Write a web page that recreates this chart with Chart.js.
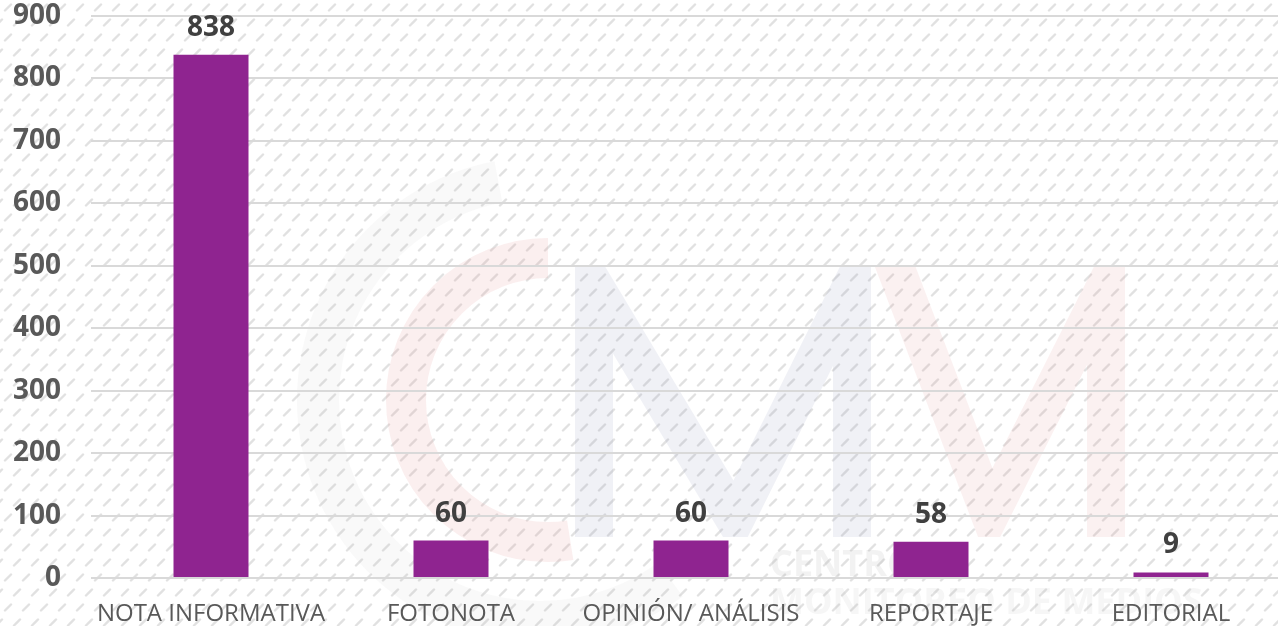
<!DOCTYPE html>
<html>
<head>
<meta charset="utf-8">
<script src="https://cdn.jsdelivr.net/npm/chart.js@4"></script>
<style>
  html, body { margin: 0; padding: 0; overflow: hidden; background: #ffffff; }
  #wrap { position: relative; width: 1291px; height: 626px; }
</style>
</head>
<body>
<div id="wrap"><canvas id="c"></canvas></div>
<script>
const categories = ["NOTA INFORMATIVA", "FOTONOTA", "OPINIÓN/ ANÁLISIS", "REPORTAJE", "EDITORIAL"];
const values = [838, 60, 60, 58, 9];
const yTicks = [0, 100, 200, 300, 400, 500, 600, 700, 800, 900];
const watermarkLines = ["CENTRO", "MONITOREO DE MEDIOS"];

const FONT = "'Open Sans', 'DejaVu Sans', sans-serif";

function makePattern(ctx) {
  const p = document.createElement('canvas');
  p.width = 18; p.height = 30;
  const g = p.getContext('2d');
  g.fillStyle = '#ffffff';
  g.fillRect(0, 0, 18, 30);
  g.strokeStyle = 'rgba(200,200,200,0.55)';
  g.lineWidth = 2.4;
  g.lineCap = 'round';
  g.beginPath();
  g.moveTo(5, 10.5); g.lineTo(11, 4.5);
  g.moveTo(14, 25.5); g.lineTo(20, 19.5);
  g.moveTo(-4, 25.5); g.lineTo(2, 19.5);
  g.stroke();
  return ctx.createPattern(p, 'repeat');
}

const bgPlugin = {
  id: 'bg',
  beforeDraw(chart) {
    const ctx = chart.ctx;
    ctx.save();
    ctx.fillStyle = makePattern(ctx);
    ctx.fillRect(0, 0, chart.width, chart.height);

    ctx.lineCap = 'butt';
    // outer gray C
    ctx.strokeStyle = 'rgba(190,190,190,0.09)';
    ctx.lineWidth = 42;
    ctx.beginPath();
    ctx.arc(540, 400, 222, -Math.PI * 0.56, Math.PI * 0.30, true);
    ctx.stroke();
    // inner pink C
    ctx.strokeStyle = 'rgba(225,140,140,0.14)';
    ctx.lineWidth = 40;
    ctx.beginPath();
    ctx.arc(548, 400, 142, -Math.PI * 0.5, Math.PI * 0.45, true);
    ctx.stroke();
    // M shapes, clipped flat at top/bottom
    ctx.save();
    ctx.beginPath();
    ctx.rect(0, 265, chart.width, 272);
    ctx.clip();
    ctx.lineJoin = 'miter';
    ctx.lineWidth = 38;
    ctx.strokeStyle = 'rgba(130,140,180,0.12)';
    ctx.beginPath();
    ctx.moveTo(594, 560); ctx.lineTo(594, 285);
    ctx.lineTo(735, 520); ctx.lineTo(852, 285); ctx.lineTo(852, 560);
    ctx.stroke();
    ctx.strokeStyle = 'rgba(225,140,140,0.12)';
    ctx.beginPath();
    ctx.moveTo(885, 240); ctx.lineTo(990, 515); ctx.lineTo(1106, 285); ctx.lineTo(1106, 560);
    ctx.stroke();
    ctx.restore();
    // text
    ctx.fillStyle = 'rgba(160,160,160,0.14)';
    ctx.font = "bold 36px " + FONT;
    ctx.textAlign = 'left';
    ctx.textBaseline = 'middle';
    ctx.fillText(watermarkLines[0], 770, 566);
    ctx.fillStyle = 'rgba(170,170,170,0.11)';
    ctx.fillText(watermarkLines[1], 770, 604);
    ctx.restore();
  }
};

const labelPlugin = {
  id: 'vlabels',
  afterDatasetsDraw(chart) {
    const ctx = chart.ctx;
    const meta = chart.getDatasetMeta(0);
    ctx.save();
    ctx.font = "bold 28px " + FONT;
    ctx.fillStyle = '#404040';
    ctx.textAlign = 'center';
    ctx.textBaseline = 'middle';
    meta.data.forEach((bar, i) => {
      ctx.fillText(String(values[i]), bar.x, bar.y - 27);
    });
    ctx.restore();
  }
};

new Chart(document.getElementById('c'), {
  type: 'bar',
  data: {
    labels: categories,
    datasets: [{
      data: values,
      backgroundColor: '#8F2490',
      borderWidth: 0,
      categoryPercentage: 1,
      barPercentage: 0.3125
    }]
  },
  options: {
    responsive: true,
    maintainAspectRatio: false,
    animation: false,
    layout: { padding: { top: 16, right: 0, bottom: 0, left: 0 } },
    plugins: { legend: { display: false }, tooltip: { enabled: false } },
    scales: {
      x: {
        grid: { display: false, drawTicks: false },
        border: { display: false },
        ticks: {
          color: '#595959',
          font: { family: FONT, size: 24 },
          padding: 22,
          maxRotation: 0,
          autoSkip: false
        },
        afterFit(scale) { scale.height = 48; scale.paddingLeft = 0; scale.paddingRight = 0; }
      },
      y: {
        min: 0,
        max: 900,
        afterBuildTicks(scale) { scale.ticks = yTicks.map(v => ({ value: v })); },
        grid: { color: '#d9d9d9', lineWidth: 2, drawTicks: false },
        border: { display: false },
        ticks: {
          color: '#595959',
          font: { family: FONT, size: 28, weight: 'bold' },
          padding: 30
        },
        afterFit(scale) { scale.width = 91; scale.paddingTop = 0; scale.paddingBottom = 0; }
      }
    }
  },
  plugins: [bgPlugin, labelPlugin]
});
</script>
</body>
</html>
